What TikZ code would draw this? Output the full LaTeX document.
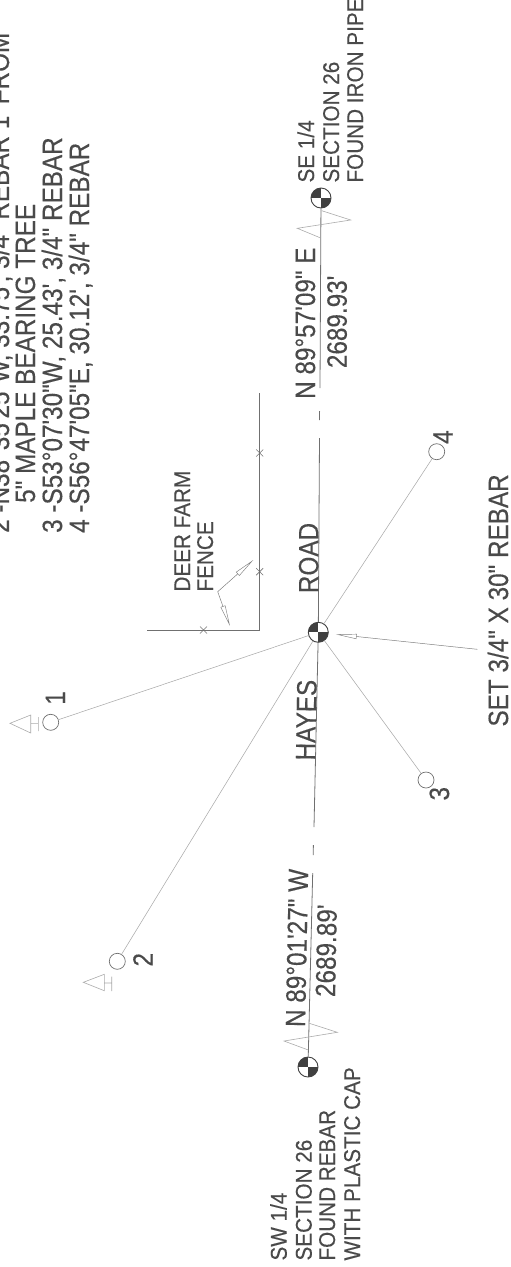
\documentclass[tikz,border=0pt]{standalone}
\usepackage{fontspec}
\usetikzlibrary{arrows.meta}
\newfontfamily\labfont[FakeBold=0.35]{Liberation Sans}
\definecolor{ink}{HTML}{4A4A4A}
\definecolor{road}{HTML}{707070}
\definecolor{thinl}{HTML}{ABABAB}
\tikzset{
  txt/.style={rotate=90,yscale=1.15,anchor=base west,inner sep=0pt,text=ink,font=\labfont\fontsize{24.3}{24}\selectfont},
  txts/.style={rotate=90,yscale=1.1,anchor=base west,inner sep=0pt,text=ink,font=\labfont\fontsize{20.7}{21}\selectfont},
  mon/.style={circle,draw=black!75,line width=0.9pt,minimum size=20pt,inner sep=0pt,fill=white,
    path picture={\fill[black!75] (path picture bounding box.north west) rectangle (path picture bounding box.center);
      \fill[black!75] (path picture bounding box.center) rectangle (path picture bounding box.south east);}},
  pt/.style={circle,draw=road,line width=0.7pt,minimum size=16pt,inner sep=0pt},
  roadl/.style={draw=road,line width=0.8pt},
  radial/.style={draw=thinl,line width=0.55pt},
  sym/.style={draw=thinl,line width=0.6pt,line join=miter},
  lead/.style={draw=black!50,line width=0.5pt,-{Stealth[open,length=21pt,width=5pt,inset=0pt,line width=0.45pt]}},
}
\begin{document}
\begin{tikzpicture}[x=1pt,y=-1pt]
\useasboundingbox (0,0) rectangle (511,1267);
% monuments and points
\node[mon] (se) at (321,198) {};
\node[mon] (c) at (318.3,632.3) {};
\node[mon] (sw) at (308,1067) {};
\node[pt] (o1) at (50.7,722.3) {};
\node[pt] (o2) at (117.3,961.3) {};
\node[pt] (o3) at (426,780) {};
\node[pt] (o4) at (436.7,451.7) {};
% road
\coordinate (ra) at (320,388);
\coordinate (rb) at (319.6,411);
\coordinate (rc) at (319.5,420);
\coordinate (rd) at (319.5,438);
\coordinate (re) at (314,827);
\coordinate (rf) at (313.4,845);
\coordinate (rg) at (313.2,855);
\coordinate (rh) at (312.7,873);
\path[roadl] (se) -- (ra) (rb) -- (rc) (rd) -- (c) (c) -- (re) (rf) -- (rg) (rh) -- (sw);
% break symbols
\coordinate (b1) at (321.7,210.7); \coordinate (b2) at (350.7,220); \coordinate (b3) at (297.3,228.3); \coordinate (b4) at (320,237.7);
\path[sym] (b1) -- (b2) -- (b3) -- (b4);
\coordinate (d1) at (309.3,1023.3); \coordinate (d2) at (337.3,1032.3); \coordinate (d3) at (284,1041); \coordinate (d4) at (308.3,1050);
\path[sym] (d1) -- (d2) -- (d3) -- (d4);
% radials
\path[radial] (c) -- (o1);
\path[radial] (c) -- (o2);
\path[radial] (c) -- (o3);
\path[radial] (c) -- (o4);
% fence
\coordinate (fa) at (259.7,393); \coordinate (fb) at (259.7,630); \coordinate (fc) at (147.3,630);
\path[roadl] (fa) -- (fb) -- (fc);
\foreach \n/\x/\y in {x1/259.7/453, x2/259.7/571.7, x3/203.5/630}{
  \coordinate (\n) at (\x,\y);
  \draw[draw=black!55,line width=0.6pt] ([shift={(-3.5,-3.5)}]\n) -- ([shift={(3.5,3.5)}]\n) ([shift={(-3.5,3.5)}]\n) -- ([shift={(3.5,-3.5)}]\n);
}
% leaders
\coordinate (l0) at (217.7,591.7); \coordinate (l1) at (253.3,560); \coordinate (l2) at (230,626);
\path[lead] (l0) -- (l1);
\path[lead] (l0) -- (l2);
\coordinate (s0) at (477.3,649.3); \coordinate (s1) at (335.7,634.3);
\path[lead] (s0) -- (s1);
% tree symbols
\coordinate (t1a) at (10,723.3); \coordinate (t1b) at (30.7,715); \coordinate (t1c) at (30.7,733);
\coordinate (t1d) at (30.7,723.3); \coordinate (t1e) at (38.3,723.3); \coordinate (t1f) at (38.3,717); \coordinate (t1g) at (38.3,731);
\path[sym] (t1a) -- (t1b) -- (t1c) -- cycle (t1d) -- (t1e) (t1f) -- (t1g);
\coordinate (t2a) at (83.3,982.3); \coordinate (t2b) at (104.3,974.3); \coordinate (t2c) at (104.3,990.7);
\coordinate (t2d) at (104.3,983); \coordinate (t2e) at (111.7,983); \coordinate (t2f) at (111.7,976.7); \coordinate (t2g) at (111.7,991);
\path[sym] (t2a) -- (t2b) -- (t2c) -- cycle (t2d) -- (t2e) (t2f) -- (t2g);
% notes
\node[txt] (n1) at (9,533) {2 -N38°35'25"W, 33.75', 3/4" REBAR 1' FROM};
\node[txt] (n2) at (35,503) {5" MAPLE BEARING TREE};
\node[txt] (n3) at (62,533) {3 -S53°07'30"W, 25.43', 3/4" REBAR};
\node[txt] (n4) at (89,533) {4 -S56°47'05"E, 30.12', 3/4" REBAR};
\node[txts] (df1) at (190,591.7) {DEER FARM};
\node[txts] (df2) at (213,591.7) {FENCE};
\node[txt] (rd1) at (318.3,593.3) {ROAD};
\node[txt,rotate=-1] (hy) at (315,760.7) {HAYES};
\node[txt] (set) at (508,726.7) {SET 3/4" X 30" REBAR};
\node[txt] (p1) at (65,705) {1};
\node[txt] (p2) at (152.7,966.7) {2};
\node[txt] (p3) at (449,800.7) {3};
\node[txt] (p4) at (452.7,444) {4};
\node[txt] (be) at (315,399) {N 89°57'09" E};
\node[txt] (de) at (346.7,368.3) {2689.93'};
\node[txts] (se1) at (314,182.7) {SE 1/4};
\node[txts] (se2) at (339,182.7) {SECTION 26};
\node[txts] (se3) at (363,182.7) {FOUND IRON PIPE};
\node[txt,rotate=-1] (bw) at (305,1027.3) {N 89°01'27" W};
\node[txt,rotate=-1] (dw) at (335,997.3) {2689.89'};
\node[txts] (sw1) at (286.7,1260.7) {SW 1/4};
\node[txts] (sw2) at (311.7,1260.7) {SECTION 26};
\node[txts] (sw3) at (335,1260.7) {FOUND REBAR};
\node[txts] (sw4) at (360,1260.7) {WITH PLASTIC CAP};
\end{tikzpicture}
\end{document}
